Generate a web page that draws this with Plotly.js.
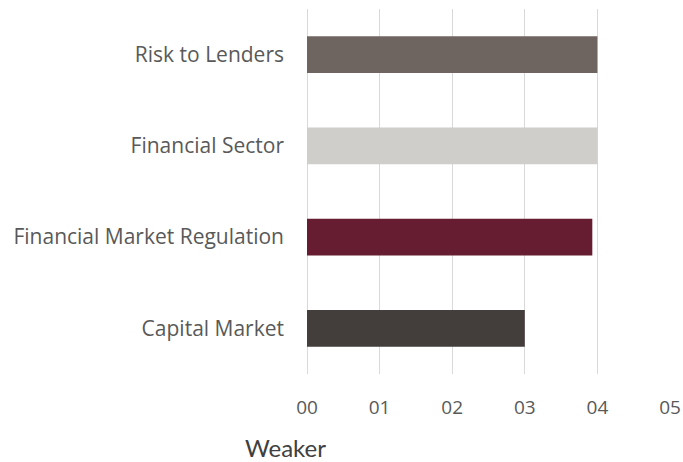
<!DOCTYPE html>
<html><head><meta charset="utf-8">
<script src="https://cdn.plot.ly/plotly-3.0.1.min.js"></script>
<style>body{margin:0;background:#fff}#chart{width:683px;height:462px}</style>
</head><body><div id="chart"></div>
<script>
const categories = ["Capital Market", "Financial Market Regulation", "Financial Sector", "Risk to Lenders"];
const values = [3.0, 3.93, 4.0, 4.0];
const barColors = ["#433D3C", "#661C31", "#D0CECA", "#6E6561"];
const tickValues = [0, 1, 2, 3, 4, 5];
const tickLabels = ["00", "01", "02", "03", "04", "05"];
const axisNote = "Weaker";

const font = "'Open Sans', sans-serif";
Plotly.newPlot("chart", [{
  type: "bar", orientation: "h",
  x: values, y: categories,
  marker: {color: barColors},
  hoverinfo: "none"
}], {
  width: 683, height: 462,
  margin: {l: 307, r: 13, t: 9, b: 88},
  paper_bgcolor: "#fff", plot_bgcolor: "#fff",
  bargap: 0.595,
  showlegend: false,
  xaxis: {
    range: [0, 5], tickvals: tickValues, ticktext: tickLabels,
    showgrid: true, gridcolor: "#d9d9d9", gridwidth: 1,
    zeroline: true, zerolinecolor: "#d9d9d9", zerolinewidth: 1,
    showline: false, ticks: "", ticklabelstandoff: 20,
    tickfont: {family: font, size: 19, color: "#595959"}
  },
  yaxis: {
    type: "category", categoryorder: "array", categoryarray: categories,
    showgrid: false, zeroline: false, showline: false, ticks: "",
    ticklabelstandoff: 22,
    tickfont: {family: font, size: 21, color: "#595959"}
  },
  annotations: [{
    text: axisNote, xref: "paper", yref: "paper",
    x: -0.06, y: -0.2, xanchor: "center", yanchor: "middle",
    showarrow: false,
    font: {family: "Lato, sans-serif", size: 24, color: "#404040"}
  }]
}, {displayModeBar: false, staticPlot: true});
</script></body></html>
